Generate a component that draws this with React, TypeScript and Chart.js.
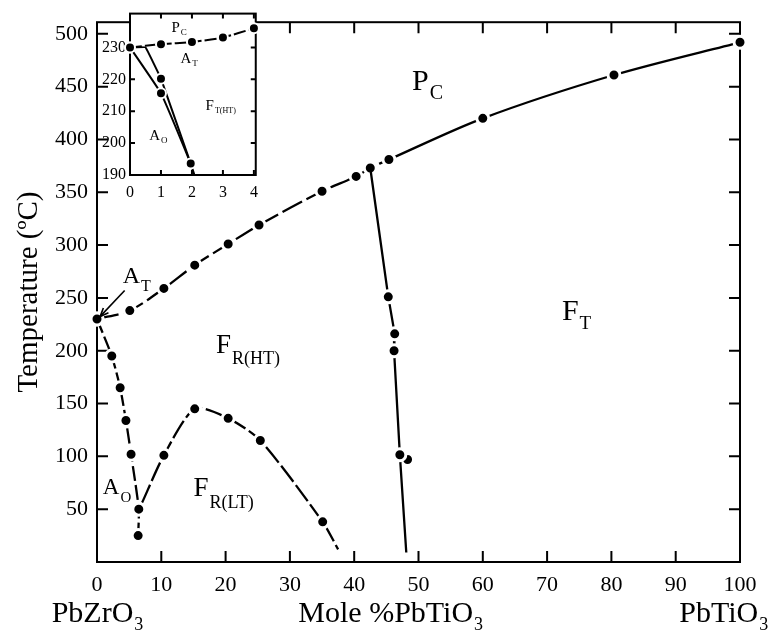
import React, { useEffect, useRef } from "react";
import { Chart, registerables } from "chart.js";
Chart.register(...registerables);

const FONT = '"Liberation Serif", "Times New Roman", serif';

// ---------- main diagram data ----------
const xTickValues = [0, 10, 20, 30, 40, 50, 60, 70, 80, 90, 100];
const yTickValues = [50, 100, 150, 200, 250, 300, 350, 400, 450, 500];

// Paraelectric (Pc) boundary / Curie line
const curieX = [0, 5.1, 10.4, 15.2, 20.4, 25.2, 35, 40.3, 42.5, 45.4, 60, 80.4, 100];
const curieY = [230, 238, 259, 281, 301, 319, 351, 365, 373, 381, 420, 461, 492];

// Morphotropic boundary FR(HT) / FT
const mpbX = [42.5, 45.3, 46.3, 46.2, 47.1, 48.1];
const mpbY = [373, 251, 216, 200, 101.5, 9];
const mpbDotX = [48.3];
const mpbDotY = [97];

// AO / FR boundary
const aoX = [0, 2.3, 3.6, 4.5, 5.3, 6.5, 6.4];
const aoY = [230, 195, 165, 134, 102, 50, 25];

// FR(LT) / FR(HT) boundary
const frX = [7, 10.4, 15.2, 20.4, 25.4, 35.1, 37.5];
const frY = [56, 101, 145, 136, 115, 38, 12];

// ---------- inset data ----------
const insetXTicks = [0, 1, 2, 3, 4];
const insetYTicks = [190, 200, 210, 220, 230];
const insetPcX = [0, 1, 2, 3, 4];
const insetPcY = [230, 231, 231.7, 233.1, 236];
const insetAX = [0, 1, 1.96, 2.08];
const insetAY = [230, 215.6, 193.6, 190];
const insetBX = [0, 0.5, 1, 1.96];
const insetBY = [230, 230, 220.2, 193.6];

const pts = (xs: number[], ys: number[]) => xs.map((x, i) => ({ x, y: ys[i] }));

function drawSub(
  ctx: CanvasRenderingContext2D,
  x: number,
  y: number,
  main: string,
  sub: string,
  size: number,
  subSize: number,
  drop: number,
  align: "left" | "center" = "left"
) {
  ctx.font = `${size}px ${FONT}`;
  const w1 = ctx.measureText(main).width;
  ctx.font = `${subSize}px ${FONT}`;
  const w2 = ctx.measureText(sub).width;
  const x0 = align === "center" ? x - (w1 + w2) / 2 : x;
  ctx.textAlign = "left";
  ctx.textBaseline = "alphabetic";
  ctx.fillStyle = "#000";
  ctx.font = `${size}px ${FONT}`;
  ctx.fillText(main, x0, y);
  ctx.font = `${subSize}px ${FONT}`;
  ctx.fillText(sub, x0 + w1 + 1, y + drop);
}

function framePlugin(id: string, xt: number[], yt: number[], tick: number, lw: number, fillWhite: boolean) {
  return {
    id,
    beforeDatasetsDraw(chart: any) {
      const { ctx, chartArea: a, scales } = chart;
      ctx.save();
      if (fillWhite) {
        ctx.fillStyle = "#fff";
        ctx.fillRect(a.left, a.top, a.right - a.left, a.bottom - a.top);
      }
      ctx.strokeStyle = "#000";
      ctx.lineWidth = lw;
      ctx.strokeRect(a.left, a.top, a.right - a.left, a.bottom - a.top);
      ctx.beginPath();
      for (const v of xt) {
        const px = scales.x.getPixelForValue(v);
        ctx.moveTo(px, a.bottom);
        ctx.lineTo(px, a.bottom - tick);
        ctx.moveTo(px, a.top);
        ctx.lineTo(px, a.top + tick);
      }
      for (const v of yt) {
        const py = scales.y.getPixelForValue(v);
        ctx.moveTo(a.left, py);
        ctx.lineTo(a.left + tick, py);
        ctx.moveTo(a.right, py);
        ctx.lineTo(a.right - tick, py);
      }
      ctx.stroke();
      ctx.restore();
    },
  };
}

const mainLabels = {
  id: "mainLabels",
  afterDraw(chart: any) {
    const { ctx, scales, chartArea } = chart;
    const X = (v: number) => scales.x.getPixelForValue(v);
    const Y = (v: number) => scales.y.getPixelForValue(v);
    ctx.save();
    drawSub(ctx, X(49), Y(447), "P", "C", 30, 20, 9);
    drawSub(ctx, X(72.3), Y(229.5), "F", "T", 30, 19, 9);
    drawSub(ctx, X(4.0), Y(264), "A", "T", 24, 16, 8);
    drawSub(ctx, X(18.5), Y(198), "F", "R(HT)", 27, 18, 11);
    drawSub(ctx, X(15), Y(62.5), "F", "R(LT)", 27, 18, 12);
    drawSub(ctx, X(0.9), Y(64), "A", "O", 23, 15, 8);

    // arrow from A_T label to the triple point
    const x1 = X(4.3), y1 = Y(257), x2 = X(0.5), y2 = Y(232.5);
    ctx.strokeStyle = "#000";
    ctx.lineWidth = 1.6;
    ctx.beginPath();
    ctx.moveTo(x1, y1);
    ctx.lineTo(x2, y2);
    ctx.stroke();
    const ang = Math.atan2(y2 - y1, x2 - x1);
    const hl = 9;
    ctx.beginPath();
    ctx.moveTo(x2, y2);
    ctx.lineTo(x2 - hl * Math.cos(ang - 0.4), y2 - hl * Math.sin(ang - 0.4));
    ctx.moveTo(x2, y2);
    ctx.lineTo(x2 - hl * Math.cos(ang + 0.4), y2 - hl * Math.sin(ang + 0.4));
    ctx.stroke();

    const by = chartArea.bottom + 60;
    drawSub(ctx, X(0), by, "PbZrO", "3", 30, 18, 8, "center");
    drawSub(ctx, X(45.6), by, "Mole %PbTiO", "3", 30, 18, 8, "center");
    drawSub(ctx, X(97.4), by, "PbTiO", "3", 30, 18, 8, "center");
    ctx.restore();
  },
};

const insetLabels = {
  id: "insetLabels",
  afterDraw(chart: any) {
    const { ctx, scales } = chart;
    const X = (v: number) => scales.x.getPixelForValue(v);
    const Y = (v: number) => scales.y.getPixelForValue(v);
    ctx.save();
    drawSub(ctx, X(1.34), Y(234.7), "P", "C", 15, 9, 3);
    drawSub(ctx, X(1.63), Y(225), "A", "T", 15, 9, 3);
    drawSub(ctx, X(2.44), Y(210.3), "F", "T(HT)", 15, 8, 3);
    drawSub(ctx, X(0.62), Y(201), "A", "O", 15, 9, 3);
    ctx.restore();
  },
};

const lineDs = (data: any[], radii: number[], dash: number[] | ((c: any) => number[]), tension: number, lw = 2.3, r = 6, bw = 3) => ({
  data,
  showLine: true,
  borderColor: "#000",
  borderWidth: lw,
  backgroundColor: "#000",
  pointBackgroundColor: "#000",
  pointBorderColor: "#fff",
  pointBorderWidth: bw,
  pointRadius: radii.map((v) => (v ? r : 0)),
  tension,
  clip: false,
  segment: typeof dash === "function" ? { borderDash: dash } : undefined,
  borderDash: typeof dash === "function" ? [] : dash,
});

export default function App() {
  const mainRef = useRef<HTMLCanvasElement>(null);
  const insetRef = useRef<HTMLCanvasElement>(null);

  useEffect(() => {
    const main = new Chart(mainRef.current!, {
      type: "scatter",
      data: {
        datasets: [
          lineDs(pts(aoX, aoY), [1, 1, 1, 1, 1, 1, 1], [15, 4], 0.2) as any,
          lineDs(pts(frX, frY), [0, 1, 1, 1, 1, 1, 0], [20, 4], 0.25) as any,
          lineDs(pts(mpbX, mpbY), [0, 1, 1, 1, 1, 0], [], 0) as any,
          lineDs(pts(mpbDotX, mpbDotY), [1], [], 0) as any,
          lineDs(
            pts(curieX, curieY),
            curieX.map(() => 1),
            (c: any) => (c.p1.parsed.x <= 45.5 ? [22, 5] : []),
            0.3
          ) as any,
        ],
      },
      options: {
        animation: false,
        responsive: false,
        devicePixelRatio: 1,
        layout: { padding: { top: 13, right: 30, left: 0, bottom: 0 } },
        plugins: { legend: { display: false }, tooltip: { enabled: false } },
        scales: {
          x: {
            type: "linear",
            min: 0,
            max: 100,
            grid: { display: false, drawTicks: false },
            border: { display: false },
            ticks: { padding: 10, color: "#000", font: { family: FONT, size: 22 }, maxRotation: 0 },
            afterBuildTicks: (s: any) => {
              s.ticks = xTickValues.map((v) => ({ value: v }));
            },
            afterFit: (s: any) => {
              s.height = 69;
            },
          },
          y: {
            type: "linear",
            min: 0,
            max: 511,
            grid: { display: false, drawTicks: false },
            border: { display: false },
            ticks: { padding: 9, color: "#000", font: { family: FONT, size: 22 } },
            afterBuildTicks: (s: any) => {
              s.ticks = yTickValues.map((v) => ({ value: v }));
            },
            afterFit: (s: any) => {
              s.width = 97;
            },
            title: {
              display: true,
              text: "Temperature (ºC)",
              color: "#000",
              font: { family: FONT, size: 29 },
              padding: { top: 12, bottom: 0 },
            },
          },
        },
      } as any,
      plugins: [framePlugin("mainFrame", xTickValues, yTickValues, 11, 2, false), mainLabels],
    });

    const inset = new Chart(insetRef.current!, {
      type: "scatter",
      data: {
        datasets: [
          lineDs(pts(insetAX, insetAY), [1, 1, 1, 0], [], 0.1, 2, 5, 2) as any,
          lineDs(pts(insetBX, insetBY), [0, 0, 1, 0], [], 0.05, 2, 5, 2) as any,
          lineDs(pts(insetPcX, insetPcY), [1, 1, 1, 1, 1], [12, 3], 0.2, 2, 5, 2) as any,
        ],
      },
      options: {
        animation: false,
        responsive: false,
        devicePixelRatio: 1,
        layout: { padding: { top: 13, right: 6, left: 0, bottom: 0 } },
        plugins: { legend: { display: false }, tooltip: { enabled: false } },
        scales: {
          x: {
            type: "linear",
            min: 0,
            max: 4.06,
            grid: { display: false, drawTicks: false },
            border: { display: false },
            ticks: { padding: 8, color: "#000", font: { family: FONT, size: 16 }, maxRotation: 0 },
            afterBuildTicks: (s: any) => {
              s.ticks = insetXTicks.map((v) => ({ value: v }));
            },
            afterFit: (s: any) => {
              s.height = 30;
            },
          },
          y: {
            type: "linear",
            min: 190,
            max: 240.6,
            grid: { display: false, drawTicks: false },
            border: { display: false },
            ticks: { padding: 4, color: "#000", font: { family: FONT, size: 16 } },
            afterBuildTicks: (s: any) => {
              s.ticks = insetYTicks.map((v) => ({ value: v }));
            },
            afterFit: (s: any) => {
              s.width = 34;
            },
          },
        },
      } as any,
      plugins: [framePlugin("insetFrame", insetXTicks, insetYTicks, 5, 2, true), insetLabels],
    });

    return () => {
      main.destroy();
      inset.destroy();
    };
  }, []);

  return (
    <div style={{ position: "absolute", left: 0, top: 0, width: 770, height: 631, background: "#fff" }}>
      <canvas ref={mainRef} width={770} height={631} style={{ position: "absolute", left: 0, top: 0 }} />
      <canvas ref={insetRef} width={170} height={205} style={{ position: "absolute", left: 96, top: 0 }} />
    </div>
  );
}
